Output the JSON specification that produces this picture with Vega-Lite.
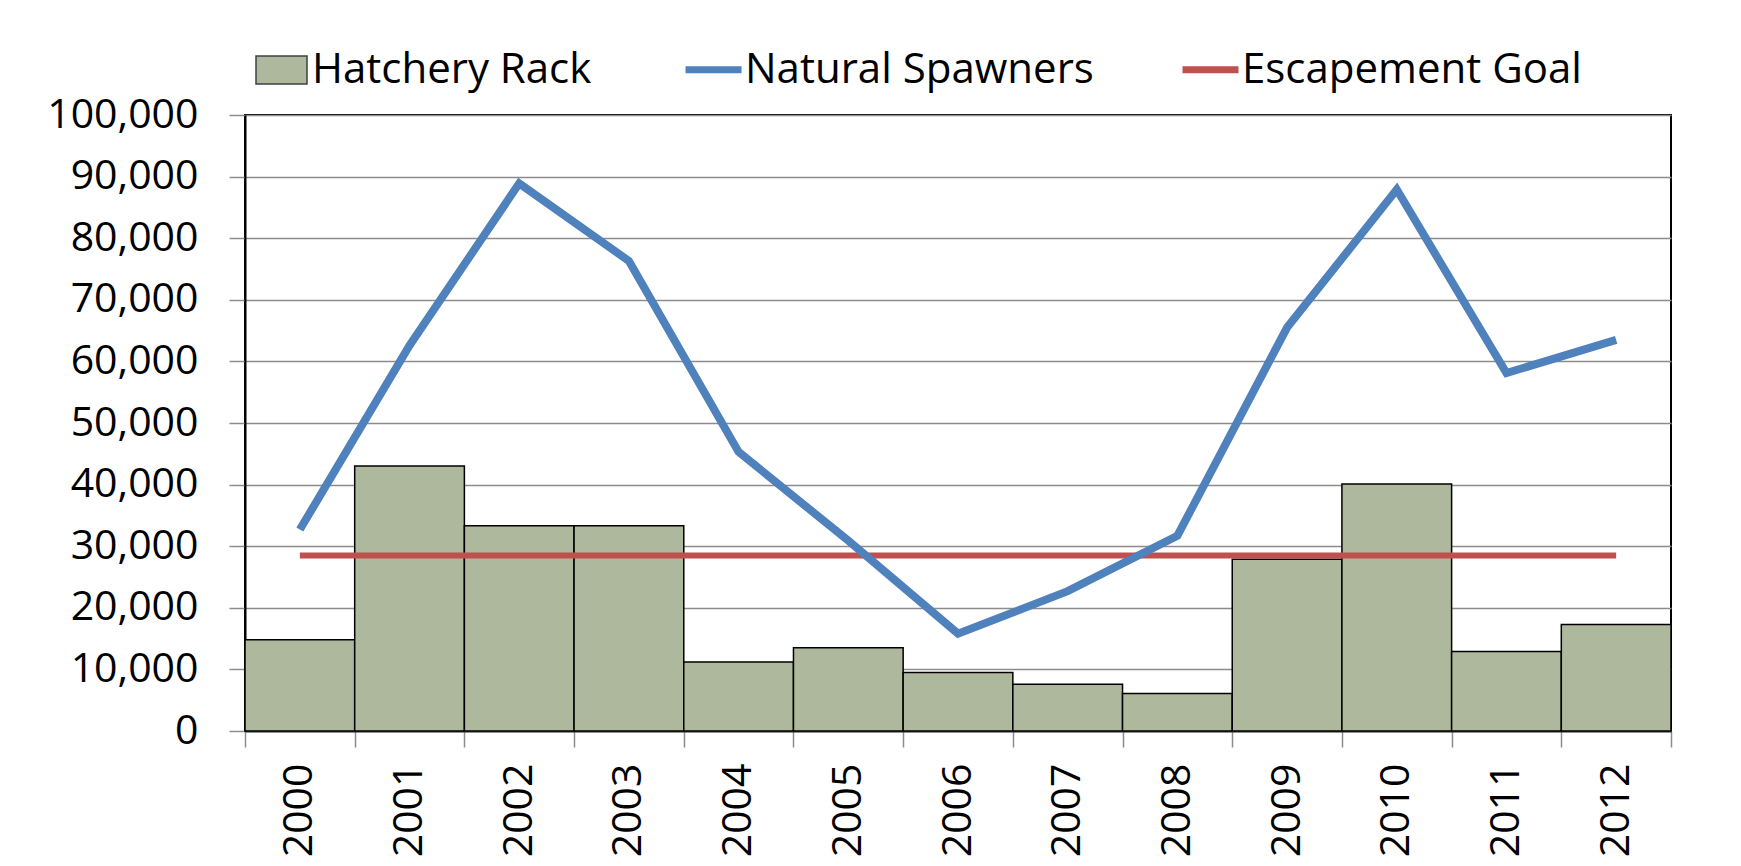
{
  "$schema": "https://vega.github.io/schema/vega-lite/v6.json",
  "width": 1426,
  "height": 616,
  "autosize": {"type": "none"},
  "padding": {"left": 245, "top": 115, "right": 70, "bottom": 135},
  "background": "white",
  "config": {
    "font": "Open Sans",
    "view": {"stroke": "#000000", "strokeWidth": 2},
    "axis": {"labelFont": "Open Sans", "labelFontSize": 41, "labelColor": "#000000"},
    "legend": {"labelFont": "Open Sans", "labelFontSize": 42, "labelColor": "#000000", "labelLimit": 600, "padding": 0, "title": null}
  },
  "data": {
    "values": [
      {"year": "2000", "hatchery": 14800, "natural": 32700, "goal": 28500},
      {"year": "2001", "hatchery": 43000, "natural": 62600, "goal": 28500},
      {"year": "2002", "hatchery": 33300, "natural": 88900, "goal": 28500},
      {"year": "2003", "hatchery": 33300, "natural": 76300, "goal": 28500},
      {"year": "2004", "hatchery": 11200, "natural": 45300, "goal": 28500},
      {"year": "2005", "hatchery": 13500, "natural": 30900, "goal": 28500},
      {"year": "2006", "hatchery": 9500, "natural": 15800, "goal": 28500},
      {"year": "2007", "hatchery": 7600, "natural": 22700, "goal": 28500},
      {"year": "2008", "hatchery": 6100, "natural": 31700, "goal": 28500},
      {"year": "2009", "hatchery": 27900, "natural": 65500, "goal": 28500},
      {"year": "2010", "hatchery": 40100, "natural": 87900, "goal": 28500},
      {"year": "2011", "hatchery": 12900, "natural": 58100, "goal": 28500},
      {"year": "2012", "hatchery": 17300, "natural": 63500, "goal": 28500}
    ]
  },
  "encoding": {
    "x": {
      "field": "year",
      "type": "ordinal",
      "scale": {"paddingInner": 0, "paddingOuter": 0},
      "axis": {
        "title": null,
        "labelAngle": 270,
        "labelPadding": 16,
        "tickBand": "extent",
        "tickSize": 16,
        "tickColor": "#8c8c8c",
        "tickWidth": 1.5,
        "domainColor": "#404040",
        "domainWidth": 2,
        "grid": false
      }
    }
  },
  "layer": [
    {
      "mark": {"type": "bar", "stroke": "#000000", "strokeWidth": 1.5, "opacity": 1},
      "encoding": {
        "y": {
          "field": "hatchery",
          "type": "quantitative",
          "scale": {"domain": [0, 100000], "nice": false},
          "axis": {
            "title": null,
            "values": [0, 10000, 20000, 30000, 40000, 50000, 60000, 70000, 80000, 90000, 100000],
            "format": ",d",
            "tickSize": 16,
            "tickColor": "#8c8c8c",
            "tickWidth": 1.5,
            "labelPadding": 31,
            "domainColor": "#000000",
            "domainWidth": 2,
            "grid": true,
            "gridColor": "#8c8c8c",
            "gridWidth": 1.5,
            "zindex": 0
          }
        },
        "fill": {
          "datum": "Hatchery Rack",
          "type": "nominal",
          "scale": {"domain": ["Hatchery Rack"], "range": ["#AEB89C"]},
          "legend": {
            "orient": "none",
            "legendX": 10,
            "legendY": -71.5,
            "direction": "horizontal",
            "labelOffset": 4,
            "symbolType": "M-1,-0.55H1V0.55H-1Z",
            "symbolSize": 2601,
            "symbolStrokeColor": "#404040",
            "symbolStrokeWidth": 1.5,
            "symbolOpacity": 1
          }
        }
      }
    },
    {
      "mark": {"type": "line", "strokeWidth": 6},
      "encoding": {
        "y": {"field": "goal", "type": "quantitative"},
        "stroke": {
          "datum": "Escapement Goal",
          "type": "nominal",
          "scale": {"domain": ["Natural Spawners", "Escapement Goal"], "range": ["#4F81BD", "#C0504D"]},
          "legend": {
            "orient": "none",
            "legendX": 437,
            "legendY": -77,
            "direction": "horizontal",
            "labelOffset": 0,
            "columnPadding": 74,
            "symbolType": "stroke",
            "symbolSize": 3136,
            "symbolStrokeWidth": 7,
            "symbolOpacity": 1
          }
        }
      }
    },
    {
      "mark": {"type": "line", "strokeWidth": 8, "strokeJoin": "miter"},
      "encoding": {
        "y": {"field": "natural", "type": "quantitative"},
        "stroke": {"datum": "Natural Spawners", "type": "nominal"}
      }
    }
  ]
}
